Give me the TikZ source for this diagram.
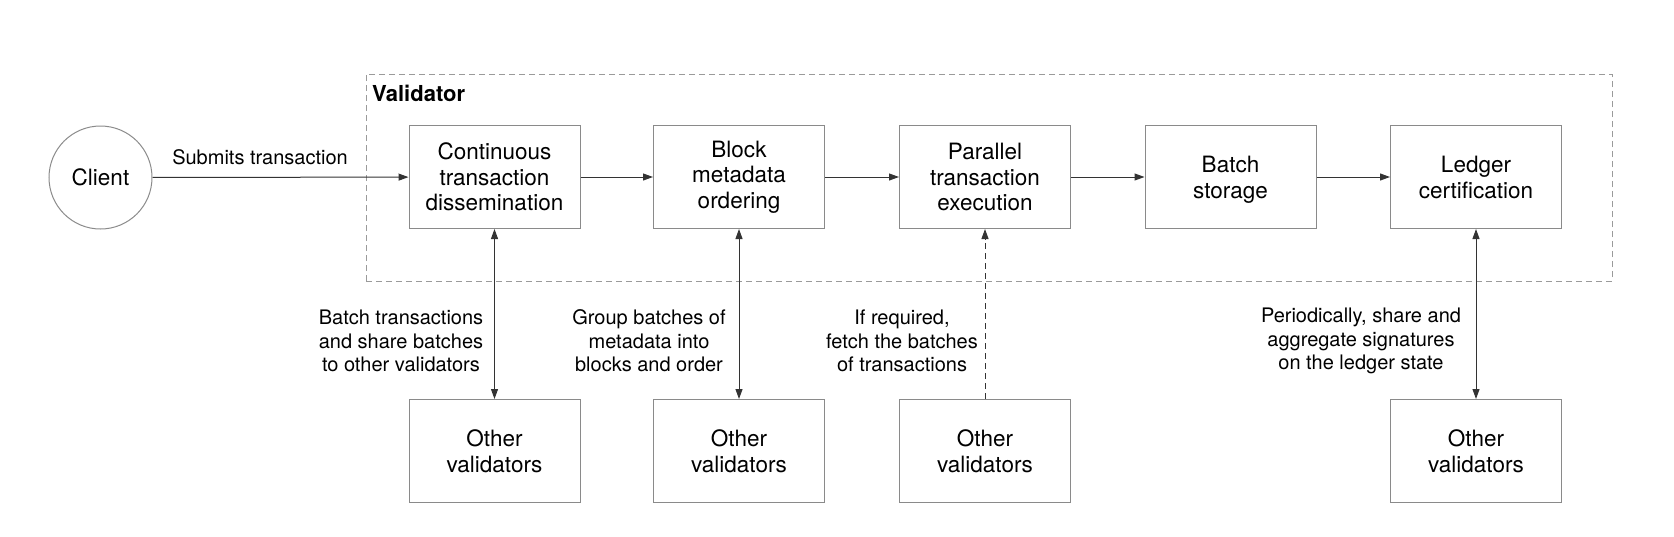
\documentclass[tikz,border=0pt]{standalone}
\usepackage{fontspec}
\setmainfont{TeX Gyre Heros}
\usetikzlibrary{arrows.meta}
\definecolor{boxline}{HTML}{8A8A8A}
\definecolor{arrline}{HTML}{333333}
\definecolor{dashline}{HTML}{9A9A9A}
\newcommand{\twolines}[2]{\raisebox{-8.5pt}[0pt][0pt]{\begin{tabular}{@{}c@{}}#1\\#2\end{tabular}}}
\begin{document}
\begin{tikzpicture}[x=1pt,y=-1pt,
  stage/.style={draw=boxline,line width=1pt,minimum width=171pt,minimum height=103pt,align=center,inner sep=0pt,
    font=\fontsize{22.5}{25.6}\selectfont,text=black},
  lbl/.style={align=center,inner sep=0pt,font=\fontsize{20}{23.5}\selectfont,text=black},
  flow/.style={draw=arrline,line width=1pt,-{Triangle[length=10pt,width=7pt]}},
  both/.style={draw=arrline,line width=1pt,{Triangle[length=10pt,width=7pt]}-{Triangle[length=10pt,width=7pt]}},
  fetch/.style={draw=arrline,line width=1pt,dash pattern=on 6pt off 4pt,-{Triangle[length=10pt,width=7pt]}}]
\useasboundingbox (0,0) rectangle (1674,536);
% validator container
\node[draw=dashline,line width=1pt,dash pattern=on 6pt off 4pt,minimum width=1246pt,minimum height=207pt,inner sep=0pt] (val) at (989,177.5) {};
\node[anchor=base west,inner sep=0pt,font=\fontsize{22}{26}\selectfont\bfseries] (vallbl) at (372,101) {Validator};
% client
\node[draw=boxline,line width=1pt,circle,minimum size=103pt,inner sep=0pt,font=\fontsize{22.5}{25.6}\selectfont] (client) at (100.5,177.5) {Client};
% stages
\node[stage] (s1) at (494.5,177) {Continuous\\transaction\\dissemination};
\node[stage] (s2) at (739,177) {Block\\metadata\\ordering};
\node[stage] (s3) at (985,177) {Parallel\\transaction\\execution};
\node[stage] (s4) at (1230.5,177) {\twolines{Batch}{storage}};
\node[stage] (s5) at (1476,177) {\twolines{Ledger}{certification}};
% other validators
\node[stage] (o1) at (494.5,451) {\twolines{Other}{validators}};
\node[stage] (o2) at (739,451) {\twolines{Other}{validators}};
\node[stage] (o3) at (985,451) {\twolines{Other}{validators}};
\node[stage] (o5) at (1476,451) {\twolines{Other}{validators}};
% flows
\draw[flow] (client) -- node[lbl,pos=0.42,above=12pt] (sub) {Submits transaction} (s1);
\draw[flow] (s1) -- (s2);
\draw[flow] (s2) -- (s3);
\draw[flow] (s3) -- (s4);
\draw[flow] (s4) -- (s5);
\draw[both] (s1) -- (o1);
\draw[both] (s2) -- (o2);
\draw[fetch] (o3) -- (s3);
\draw[both] (s5) -- (o5);
% labels
\node[lbl] (l1) at (401,341) {Batch transactions\\and share batches\\to other validators};
\node[lbl] (l2) at (649,341) {Group batches of\\metadata into\\blocks and order};
\node[lbl] (l3) at (902,341) {If required,\\fetch the batches\\of transactions};
\node[lbl] (l5) at (1361,341) {Periodically, share and\\aggregate signatures\\on the ledger state};
\end{tikzpicture}
\end{document}
